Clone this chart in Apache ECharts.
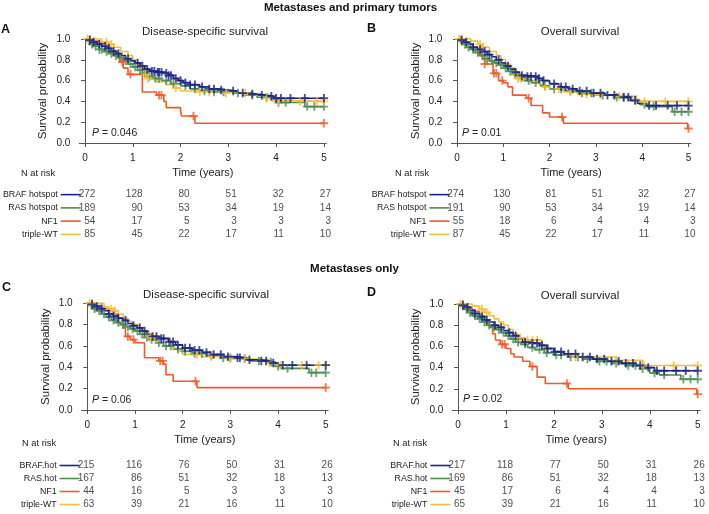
<!DOCTYPE html>
<html><head><meta charset="utf-8">
<script src="https://cdn.jsdelivr.net/npm/echarts@6/dist/echarts.min.js"></script>
<style>html,body{margin:0;padding:0;background:#fff}#c{width:709px;height:514px}</style>
</head><body><div id="c"></div>
<script>
// ---------- DATA ----------
const years = [0, 1, 2, 3, 4, 5];
const yTicks = [0, 0.2, 0.4, 0.6, 0.8, 1.0];
const groupsAB = ['BRAF hotspot', 'RAS hotspot', 'NF1', 'triple-WT'];
const groupsCD = ['BRAF.hot', 'RAS.hot', 'NF1', 'triple-WT'];

// Panel A: metastases + primary, disease-specific survival
const A_BRAF = [[0,1],[0.08,0.99],[0.15,0.97],[0.25,0.95],[0.35,0.93],[0.45,0.91],[0.55,0.88],[0.65,0.86],[0.75,0.84],[0.85,0.81],[0.95,0.79],[1.05,0.77],[1.15,0.74],[1.25,0.71],[1.35,0.69],[1.5,0.68],[1.65,0.67],[1.75,0.65],[1.85,0.62],[1.95,0.6],[2.05,0.58],[2.2,0.56],[2.4,0.54],[2.6,0.52],[2.8,0.51],[3.0,0.5],[3.2,0.48],[3.45,0.47],[3.6,0.46],[3.8,0.45],[3.95,0.43],[5.0,0.43]];
const A_RAS = [[0,1],[0.05,0.98],[0.12,0.95],[0.2,0.93],[0.3,0.9],[0.4,0.88],[0.5,0.86],[0.6,0.84],[0.7,0.82],[0.8,0.79],[0.9,0.76],[1.0,0.73],[1.1,0.7],[1.2,0.67],[1.3,0.64],[1.45,0.62],[1.6,0.6],[1.8,0.57],[2.0,0.55],[2.2,0.52],[2.4,0.5],[2.7,0.49],[3.0,0.48],[3.3,0.46],[3.6,0.44],[3.9,0.41],[4.0,0.39],[4.6,0.35],[5.0,0.35]];
const A_NF1 = [[0,1],[0.15,0.98],[0.3,0.96],[0.45,0.92],[0.55,0.89],[0.65,0.85],[0.72,0.78],[0.8,0.72],[0.9,0.66],[1.2,0.49],[1.5,0.46],[1.65,0.4],[1.7,0.34],[2.0,0.31],[2.02,0.26],[2.3,0.19],[5.0,0.19]];
const A_TWT = [[0,1],[0.35,0.97],[0.5,0.95],[0.6,0.92],[0.75,0.88],[0.9,0.84],[1.0,0.8],[1.1,0.76],[1.2,0.72],[1.25,0.66],[1.3,0.62],[1.5,0.59],[1.7,0.56],[1.85,0.53],[2.0,0.5],[2.3,0.49],[2.9,0.48],[3.4,0.46],[3.8,0.43],[3.9,0.41],[4.0,0.4],[5.0,0.4]];
const cA_BRAF = [0.1,0.18,0.3,0.42,0.5,0.6,0.7,0.9,1.1,1.2,1.3,1.4,1.45,1.52,1.55,1.6,1.7,1.75,1.8,1.9,2.0,2.1,2.2,2.3,2.45,2.6,2.7,2.85,3.1,3.3,3.5,3.7,3.9,4.0,4.1,4.3,4.6,5.0];
const cA_RAS = [0.1,0.15,0.22,0.3,0.35,0.45,0.55,0.65,0.75,0.85,0.95,1.05,1.15,1.25,1.35,1.47,1.55,1.7,1.85,2.1,2.3,2.5,2.7,2.9,3.2,3.5,3.8,4.05,4.2,4.65,4.8,5.0];
const cA_NF1 = [0.78,0.95,1.55,1.6,2.27,5.0];
const cA_TWT = [0.05,0.1,0.45,0.55,1.27,1.32,1.9,2.4,2.6,2.95,3.35,3.8,4.05,4.5,4.85,5.0];
const riskA = [[272,128,80,51,32,27],[189,90,53,34,19,14],[54,17,5,3,3,3],[85,45,22,17,11,10]];

// Panel B: metastases + primary, overall survival
const B_BRAF = [[0,1],[0.08,0.99],[0.15,0.97],[0.25,0.95],[0.35,0.92],[0.45,0.9],[0.55,0.88],[0.65,0.85],[0.75,0.83],[0.85,0.8],[0.95,0.77],[1.05,0.74],[1.15,0.71],[1.25,0.68],[1.35,0.65],[1.5,0.64],[1.75,0.62],[1.85,0.6],[2.0,0.57],[2.2,0.54],[2.4,0.52],[2.6,0.5],[2.9,0.48],[3.2,0.46],[3.5,0.44],[3.75,0.41],[3.9,0.38],[4.1,0.36],[5.0,0.36]];
const B_RAS = [[0,1],[0.05,0.98],[0.12,0.95],[0.2,0.92],[0.3,0.9],[0.4,0.87],[0.5,0.84],[0.6,0.81],[0.7,0.79],[0.8,0.77],[0.9,0.75],[1.0,0.72],[1.1,0.69],[1.2,0.66],[1.3,0.63],[1.45,0.6],[1.6,0.58],[1.8,0.55],[2.0,0.52],[2.3,0.5],[2.6,0.48],[3.0,0.46],[3.4,0.44],[3.7,0.41],[3.95,0.37],[4.1,0.35],[4.65,0.3],[5.0,0.3]];
const B_NF1 = [[0,1],[0.1,0.98],[0.2,0.96],[0.3,0.92],[0.45,0.85],[0.55,0.81],[0.6,0.76],[0.78,0.67],[0.9,0.6],[1.0,0.58],[1.1,0.54],[1.2,0.46],[1.5,0.43],[1.6,0.36],[1.85,0.29],[2.0,0.25],[2.3,0.19],[4.98,0.14],[5.0,0.14]];
const B_TWT = [[0,1],[0.3,0.98],[0.45,0.95],[0.55,0.92],[0.7,0.88],[0.85,0.84],[0.95,0.8],[1.05,0.76],[1.15,0.72],[1.25,0.66],[1.3,0.62],[1.5,0.6],[1.75,0.57],[1.85,0.54],[2.0,0.52],[2.3,0.49],[2.6,0.47],[3.0,0.46],[3.4,0.45],[3.85,0.42],[3.9,0.4],[5.0,0.4]];
const cB_BRAF = [0.1,0.2,0.35,0.5,0.6,0.7,0.9,1.1,1.27,1.4,1.52,1.6,1.7,1.77,1.87,2.1,2.25,2.35,2.5,2.65,2.8,2.95,3.1,3.25,3.4,3.6,3.7,3.85,4.15,4.3,4.55,4.75,5.0];
const cB_RAS = [0.1,0.18,0.25,0.35,0.45,0.55,0.65,0.75,0.85,0.95,1.05,1.15,1.25,1.4,1.55,1.7,1.9,2.1,2.25,2.45,2.7,2.9,3.15,3.45,3.6,3.85,4.05,4.25,4.7,4.85,5.0];
const cB_NF1 = [0.6,0.8,0.85,0.98,1.55,2.27,5.0];
const cB_TWT = [0.05,0.1,0.5,0.55,1.27,1.32,1.37,1.9,2.2,2.45,2.8,3.1,3.5,3.87,4.05,4.5,5.0];
const riskB = [[274,130,81,51,32,27],[191,90,53,34,19,14],[55,18,6,4,4,3],[87,45,22,17,11,10]];

// Panel C: metastases only, disease-specific survival
const C_BRAF = [[0,1],[0.08,0.99],[0.15,0.97],[0.25,0.95],[0.35,0.93],[0.45,0.9],[0.55,0.88],[0.65,0.86],[0.75,0.84],[0.85,0.81],[0.95,0.79],[1.05,0.77],[1.15,0.74],[1.25,0.71],[1.35,0.69],[1.5,0.67],[1.7,0.64],[1.85,0.61],[2.0,0.58],[2.2,0.56],[2.4,0.54],[2.6,0.52],[2.85,0.5],[3.1,0.49],[3.35,0.47],[3.6,0.46],[3.85,0.44],[4.0,0.42],[5.0,0.42]];
const C_RAS = [[0,1],[0.05,0.98],[0.12,0.95],[0.2,0.93],[0.3,0.9],[0.4,0.87],[0.5,0.84],[0.6,0.82],[0.7,0.8],[0.8,0.78],[0.9,0.76],[1.0,0.74],[1.1,0.71],[1.2,0.68],[1.3,0.66],[1.45,0.63],[1.6,0.6],[1.8,0.57],[2.0,0.55],[2.2,0.53],[2.5,0.51],[2.8,0.49],[3.1,0.48],[3.4,0.46],[3.7,0.45],[3.95,0.41],[4.05,0.39],[4.65,0.35],[5.0,0.35]];
const C_NF1 = [[0,1],[0.15,0.98],[0.3,0.95],[0.45,0.93],[0.55,0.9],[0.65,0.86],[0.75,0.77],[0.8,0.69],[0.9,0.66],[1.0,0.63],[1.2,0.49],[1.5,0.46],[1.6,0.43],[1.65,0.33],[1.8,0.27],[2.3,0.21],[5.0,0.21]];
const C_TWT = [[0,1],[0.35,0.97],[0.45,0.95],[0.55,0.93],[0.65,0.9],[0.75,0.86],[0.85,0.83],[0.95,0.8],[1.1,0.77],[1.2,0.73],[1.3,0.68],[1.4,0.67],[1.75,0.62],[1.8,0.58],[1.9,0.55],[2.0,0.52],[2.4,0.5],[2.9,0.48],[3.4,0.47],[3.8,0.44],[3.85,0.42],[5.0,0.42]];
const cC_BRAF = [0.1,0.2,0.3,0.45,0.55,0.65,0.8,0.97,1.1,1.2,1.37,1.45,1.55,1.6,1.72,1.8,1.9,2.05,2.15,2.25,2.35,2.5,2.65,2.8,2.95,3.15,3.2,3.4,3.65,3.75,3.9,4.1,4.3,4.6,5.0];
const cC_RAS = [0.1,0.15,0.25,0.35,0.45,0.55,0.65,0.75,0.85,0.95,1.05,1.15,1.25,1.35,1.5,1.65,1.75,1.9,2.05,2.25,2.4,2.6,2.85,3.0,3.3,3.6,3.85,4.0,4.2,4.7,4.8,5.0];
const cC_NF1 = [0.85,0.97,1.53,1.58,2.27,5.0];
const cC_TWT = [0.05,0.1,0.5,0.58,1.32,1.37,1.45,2.3,2.6,3.0,3.3,3.82,4.05,4.5,4.85,5.0];
const riskC = [[215,116,76,50,31,26],[167,86,51,32,18,13],[44,16,5,3,3,3],[63,39,21,16,11,10]];

// Panel D: metastases only, overall survival
const D_BRAF = [[0,1],[0.08,0.99],[0.15,0.97],[0.25,0.94],[0.35,0.91],[0.45,0.88],[0.55,0.85],[0.65,0.83],[0.75,0.8],[0.85,0.78],[0.95,0.75],[1.05,0.73],[1.15,0.7],[1.25,0.67],[1.35,0.64],[1.5,0.63],[1.7,0.61],[1.85,0.58],[2.0,0.55],[2.2,0.53],[2.5,0.5],[2.8,0.48],[3.1,0.46],[3.4,0.44],[3.7,0.42],[3.95,0.4],[4.1,0.37],[5.0,0.37]];
const D_RAS = [[0,1],[0.05,0.98],[0.12,0.95],[0.2,0.92],[0.3,0.89],[0.4,0.86],[0.5,0.83],[0.6,0.8],[0.7,0.78],[0.8,0.76],[0.9,0.73],[1.0,0.7],[1.1,0.67],[1.2,0.64],[1.3,0.62],[1.45,0.59],[1.6,0.57],[1.8,0.54],[2.0,0.52],[2.3,0.5],[2.6,0.48],[2.9,0.46],[3.2,0.44],[3.5,0.42],[3.8,0.39],[4.0,0.35],[4.2,0.33],[4.65,0.29],[5.0,0.29]];
const D_NF1 = [[0,1],[0.1,0.98],[0.2,0.96],[0.3,0.93],[0.45,0.89],[0.55,0.85],[0.65,0.78],[0.72,0.72],[0.78,0.66],[0.88,0.62],[1.0,0.58],[1.1,0.53],[1.17,0.5],[1.35,0.46],[1.5,0.41],[1.65,0.31],[1.82,0.25],[2.3,0.2],[4.98,0.15],[5.0,0.15]];
const D_TWT = [[0,1],[0.3,0.98],[0.45,0.95],[0.55,0.92],[0.65,0.89],[0.75,0.86],[0.85,0.83],[0.95,0.8],[1.05,0.76],[1.15,0.72],[1.25,0.68],[1.4,0.66],[1.75,0.62],[1.8,0.58],[2.0,0.55],[2.2,0.52],[2.4,0.5],[3.3,0.47],[3.85,0.42],[5.0,0.42]];
const cD_BRAF = [0.1,0.2,0.35,0.5,0.6,0.77,0.9,1.07,1.2,1.4,1.55,1.65,1.75,1.87,2.02,2.15,2.3,2.45,2.6,2.75,2.9,3.05,3.2,3.35,3.5,3.65,3.8,3.97,4.15,4.3,4.55,4.75,5.0];
const cD_RAS = [0.1,0.18,0.25,0.35,0.45,0.55,0.65,0.75,0.85,0.95,1.05,1.15,1.25,1.4,1.55,1.7,1.85,2.05,2.15,2.35,2.5,2.7,2.95,3.1,3.3,3.55,3.7,3.85,4.1,4.3,4.7,4.85,5.0];
const cD_NF1 = [0.92,0.97,1.55,2.27,5.0];
const cD_TWT = [0.05,0.1,0.5,0.6,1.3,1.45,1.55,1.65,2.45,2.6,3.3,3.87,4.5,5.0];
const riskD = [[217,118,77,50,31,26],[169,86,51,32,18,13],[45,17,6,4,4,3],[65,39,21,16,11,10]];

const pValues = ['0.046', '0.01', '0.06', '0.02'];

// ---------- STYLE ----------
const FONT = '"Liberation Sans", Arial, Helvetica, sans-serif';
const COLORS = ['#1c2584', '#4e8f50', '#f05a28', '#f5be35'];
const TXT = '#222';
const AX = '#555';
const PLUS = 'path://M3.9,0H6.1V3.9H10V6.1H6.1V10H3.9V6.1H0V3.9H3.9Z';
const XMIN = -0.12, XMAX = 5.05;

const panels = [
  {curves:[A_BRAF,A_RAS,A_NF1,A_TWT], cens:[cA_BRAF,cA_RAS,cA_NF1,cA_TWT], risk:riskA, groups:groupsAB,
   title:'Disease-specific survival', letter:'A', grid:{left:79.3,top:39,width:247,height:104}, rTop:188, rH:53,
   letterXY:[5.5,30], titleXY:[205,32], pXY:[92,133], nXY:[21,173]},
  {curves:[B_BRAF,B_RAS,B_NF1,B_TWT], cens:[cB_BRAF,cB_RAS,cB_NF1,cB_TWT], risk:riskB, groups:groupsAB,
   title:'Overall survival', letter:'B', grid:{left:451.4,top:39,width:239.4,height:104}, rTop:188, rH:53,
   letterXY:[371.5,29], titleXY:[580,32], pXY:[462,133], nXY:[395,173]},
  {curves:[C_BRAF,C_RAS,C_NF1,C_TWT], cens:[cC_BRAF,cC_RAS,cC_NF1,cC_TWT], risk:riskC, groups:groupsCD,
   title:'Disease-specific survival', letter:'C', grid:{left:81.6,top:303.3,width:246.5,height:106.7}, rTop:459, rH:52,
   letterXY:[6.5,288], titleXY:[206,295], pXY:[92,400], nXY:[22,443]},
  {curves:[D_BRAF,D_RAS,D_NF1,D_TWT], cens:[cD_BRAF,cD_RAS,cD_NF1,cD_TWT], risk:riskD, groups:groupsCD,
   title:'Overall survival', letter:'D', grid:{left:452.3,top:304,width:247.8,height:106}, rTop:459, rH:52,
   letterXY:[371.5,293], titleXY:[580,296], pXY:[463,399], nXY:[393,443]}
];

function survAt(steps, t) {
  let s = steps[0][1];
  for (const [x, y] of steps) { if (x <= t) s = y; else break; }
  return s;
}

const grid = [], xAxis = [], yAxis = [], series = [], graphic = [];
const drawOrder = [1, 2, 3, 0];

panels.forEach((p, pi) => {
  const gPlot = grid.length;
  grid.push(Object.assign({containLabel:false}, p.grid));
  xAxis.push({
    gridIndex: gPlot, type:'value', min:XMIN, max:XMAX, offset:5,
    axisLine:{show:true, lineStyle:{color:AX, width:1}},
    axisTick:{show:true, length:4, lineStyle:{color:AX}, customValues:years},
    axisLabel:{show:true, customValues:years, fontSize:10, color:TXT, fontFamily:FONT, margin:5},
    splitLine:{show:false},
    name:'Time (years)', nameLocation:'middle', nameGap:19,
    nameTextStyle:{fontSize:11, color:TXT, fontFamily:FONT}
  });
  yAxis.push({
    gridIndex: gPlot, type:'value', min:0, max:1, interval:0.2, offset:3,
    axisLine:{show:true, lineStyle:{color:AX, width:1}},
    axisTick:{show:true, length:4, lineStyle:{color:AX}},
    axisLabel:{fontSize:10, color:TXT, fontFamily:FONT, margin:6, formatter:v => v.toFixed(1)},
    splitLine:{show:false},
    name:'Survival probability', nameLocation:'middle', nameGap:27,
    nameTextStyle:{fontSize:11.5, color:TXT, fontFamily:FONT}
  });
  const ax = xAxis.length - 1;
  drawOrder.forEach(gi => {
    series.push({
      type:'line', step:'end', xAxisIndex:ax, yAxisIndex:ax, data:p.curves[gi],
      showSymbol:false, clip:false, silent:true,
      lineStyle:{color:COLORS[gi], width:1.6}, z:2
    });
    series.push({
      type:'scatter', xAxisIndex:ax, yAxisIndex:ax, symbol:PLUS, symbolSize:8.5,
      data:p.cens[gi].map(t => [t, survAt(p.curves[gi], t)]),
      itemStyle:{color:COLORS[gi]}, clip:false, silent:true, z:3
    });
  });

  // risk table grid
  const gR = grid.length;
  grid.push({left:p.grid.left, width:p.grid.width, top:p.rTop, height:p.rH, containLabel:false});
  xAxis.push({gridIndex:gR, type:'value', min:XMIN, max:XMAX, show:false});
  const rich = {n:{fontSize:8.8, color:TXT, fontFamily:FONT}, g:{width:3}};
  COLORS.forEach((c, i) => { rich['l' + i] = {width:20, height:1.6, backgroundColor:c}; });
  yAxis.push({
    gridIndex:gR, type:'category', inverse:true, data:p.groups,
    axisLine:{show:false}, axisTick:{show:false}, splitLine:{show:false},
    axisLabel:{interval:0, margin:2, formatter:(v, i) => `{n|${v}}{g|}{l${i}|}`, rich:rich}
  });
  const rx = xAxis.length - 1;
  const rdata = [];
  p.risk.forEach((row, gi) => row.forEach((n, k) => rdata.push([years[k], p.groups[gi], n])));
  series.push({
    type:'scatter', xAxisIndex:rx, yAxisIndex:rx, data:rdata, symbolSize:1, silent:true,
    itemStyle:{color:'rgba(0,0,0,0)'},
    label:{show:true, position:'inside', align:'right', offset:[7,0], fontSize:10, color:TXT, fontFamily:FONT,
           formatter:q => String(q.value[2])}
  });

  // texts
  graphic.push({type:'text', x:p.letterXY[0], y:p.letterXY[1],
    style:{text:p.letter, font:`bold 12.5px ${FONT}`, fill:'#111', align:'center', verticalAlign:'middle'}});
  graphic.push({type:'text', x:p.titleXY[0], y:p.titleXY[1],
    style:{text:p.title, font:`11.5px ${FONT}`, fill:TXT, align:'center', verticalAlign:'middle'}});
  graphic.push({type:'text', x:p.pXY[0], y:p.pXY[1],
    style:{text:'{i|P} = ' + pValues[pi], font:`10.5px ${FONT}`, fill:TXT, align:'left', verticalAlign:'middle',
           rich:{i:{fontStyle:'italic', fontSize:10.5, fontFamily:FONT, fill:TXT}}}});
  graphic.push({type:'text', x:p.nXY[0], y:p.nXY[1],
    style:{text:'N at risk', font:`9.3px ${FONT}`, fill:TXT, align:'left', verticalAlign:'middle'}});
});

graphic.push({type:'text', x:350.5, y:8,
  style:{text:'Metastases and primary tumors', font:`bold 11.5px ${FONT}`, fill:'#111', align:'center', verticalAlign:'middle'}});
graphic.push({type:'text', x:354.5, y:269,
  style:{text:'Metastases only', font:`bold 11.5px ${FONT}`, fill:'#111', align:'center', verticalAlign:'middle'}});

const chart = echarts.init(document.getElementById('c'), null, {renderer:'canvas'});
chart.setOption({
  animation:false, backgroundColor:'#fff',
  textStyle:{fontFamily:FONT},
  grid, xAxis, yAxis, series, graphic
});
</script></body></html>
